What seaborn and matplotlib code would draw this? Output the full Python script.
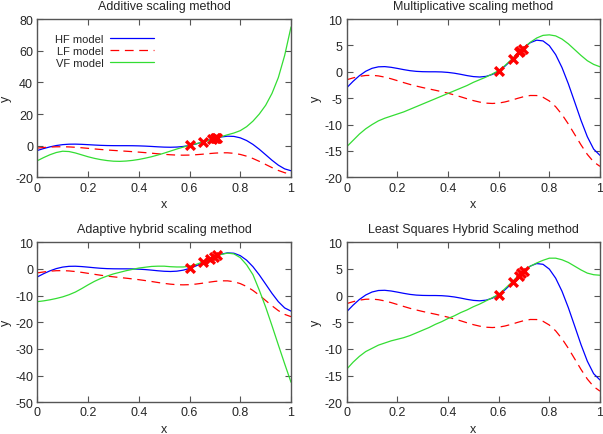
import matplotlib
matplotlib.use('Agg')
import matplotlib.pyplot as plt
from matplotlib.ticker import FormatStrFormatter
import seaborn as sns


# ── Data ─────────────────────────────────────────────────────
X_GRID = [0.0, 0.025, 0.05, 0.075, 0.1, 0.125, 0.15, 0.175, 0.2, 0.225,
          0.25, 0.275, 0.3, 0.325, 0.35, 0.375, 0.4, 0.425, 0.45, 0.475,
          0.5, 0.525, 0.55, 0.575, 0.6, 0.625, 0.65, 0.675, 0.7, 0.725,
          0.75, 0.775, 0.8, 0.825, 0.85, 0.875, 0.9, 0.925, 0.95, 0.975, 1.0]

HF_MODEL = [-3.03, -1.81, -0.74, 0.10, 0.66, 0.94, 0.98, 0.85, 0.64, 0.41,
            0.21, 0.08, 0.02, 0.00, 0.00, -0.03, -0.12, -0.27, -0.48, -0.72,
            -0.91, -0.99, -0.87, -0.50, 0.15, 1.07, 2.21, 3.44, 4.61, 5.52,
            5.99, 5.85, 4.95, 3.25, 0.80, -2.27, -5.71, -9.19, -12.30, -14.65, -15.83]

LF_MODEL = [-1.51, -1.16, -0.87, -0.70, -0.67, -0.78, -1.01, -1.32, -1.68, -2.05,
            -2.40, -2.71, -2.99, -3.25, -3.50, -3.77, -4.06, -4.39, -4.74, -5.11,
            -5.46, -5.74, -5.94, -6.00, -5.93, -5.71, -5.40, -5.03, -4.70, -4.49,
            -4.50, -4.83, -5.53, -6.62, -8.10, -9.89, -11.86, -13.84, -15.65, -17.07, -17.92]

VF_ADDITIVE = [-9.5, -7.5, -5.7, -4.3, -3.5, -3.7, -4.6, -5.8, -7.0, -8.0,
               -8.8, -9.4, -9.8, -9.9, -9.7, -9.3, -8.7, -7.9, -7.0, -5.9,
               -4.7, -3.4, -2.1, -0.9, 0.2, 1.2, 2.2, 3.3, 4.5, 5.7,
               6.9, 8.0, 9.5, 12.0, 15.5, 20.0, 25.5, 33.0, 43.0, 57.0, 75.0]

VF_MULTIPLICATIVE = [-14.2, -13.0, -11.8, -10.8, -10.0, -9.3, -8.8, -8.4, -8.0, -7.6,
                     -7.1, -6.6, -6.1, -5.6, -5.1, -4.6, -4.1, -3.6, -3.1, -2.6,
                     -2.0, -1.5, -1.0, -0.4, 0.2, 1.2, 2.3, 3.5, 4.6, 5.6,
                     6.4, 6.9, 7.0, 6.8, 6.2, 5.3, 4.2, 3.1, 2.1, 1.4, 0.95]

VF_ADAPTIVE = [-12.3, -12.0, -11.6, -11.1, -10.5, -9.7, -8.7, -7.4, -6.0, -4.7,
               -3.6, -2.7, -1.9, -1.3, -0.7, -0.2, 0.3, 0.6, 0.9, 1.0,
               1.0, 0.8, 0.7, 0.7, 1.0, 1.6, 2.5, 3.5, 4.5, 5.4,
               5.9, 5.6, 4.2, 1.5, -2.2, -8.0, -14.3, -21.3, -28.5, -35.6, -42.5]

VF_LEAST_SQUARES = [-13.8, -12.5, -11.4, -10.5, -9.9, -9.3, -8.9, -8.5, -8.2, -7.9,
                    -7.5, -7.0, -6.5, -6.0, -5.4, -4.9, -4.3, -3.8, -3.2, -2.7,
                    -2.1, -1.6, -1.0, -0.4, 0.2, 1.3, 2.4, 3.6, 4.7, 5.5,
                    6.1, 6.6, 7.0, 7.0, 6.7, 6.2, 5.5, 4.8, 4.2, 3.9, 3.8]

# high fidelity samples used by each method
SAMPLES_ADDITIVE_X = [0.6, 0.655, 0.69, 0.70, 0.705, 0.71]
SAMPLES_ADDITIVE_Y = [0.15, 2.46, 4.16, 4.61, 4.82, 5.01]
SAMPLES_MULT_X = [0.6, 0.655, 0.68, 0.685, 0.695]
SAMPLES_MULT_Y = [0.15, 2.46, 3.69, 3.92, 4.39]
SAMPLES_ADAPTIVE_X = [0.6, 0.655, 0.68, 0.695, 0.71]
SAMPLES_ADAPTIVE_Y = [0.15, 2.46, 3.69, 4.39, 5.01]
SAMPLES_LS_X = [0.6, 0.655, 0.68, 0.69, 0.70]
SAMPLES_LS_Y = [0.15, 2.46, 3.69, 4.16, 4.61]

TITLES = ['Additive scaling method', 'Multiplicative scaling method',
          'Adaptive hybrid scaling method', 'Least Squares Hybrid Scaling method']
Y_LIMITS = [(-20, 80), (-20, 10), (-50, 10), (-20, 10)]
Y_STEPS = [20, 5, 10, 5]

# ── Style ────────────────────────────────────────────────────
sns.set_style('ticks')
plt.rcParams['font.family'] = ['Liberation Sans', 'DejaVu Sans']
plt.rcParams['font.size'] = 9
plt.rcParams['axes.unicode_minus'] = False

HF_COLOR = '#0000ff'
LF_COLOR = '#ff0000'
VF_COLOR = '#33dd33'
FRAME_COLOR = '#555555'


def draw_panel(ax, vf, sx, sy, title, ylim, ystep, show_legend=False):
    sns.lineplot(x=X_GRID, y=HF_MODEL, ax=ax, color=HF_COLOR, lw=0.9,
                 label='HF model')
    sns.lineplot(x=X_GRID, y=LF_MODEL, ax=ax, color=LF_COLOR, lw=0.9,
                 linestyle=(0, (7, 4.5)), label='LF model')
    sns.lineplot(x=X_GRID, y=vf, ax=ax, color=VF_COLOR, lw=0.9,
                 label='VF model')
    sns.scatterplot(x=sx, y=sy, ax=ax, marker='x', s=40, color=LF_COLOR,
                    linewidth=2.4, zorder=5)

    ax.set_xlim(0, 1)
    ax.set_ylim(*ylim)
    ax.set_xticks([0, 0.2, 0.4, 0.6, 0.8, 1.0])
    ax.set_yticks(range(ylim[0], ylim[1] + 1, ystep))
    ax.xaxis.set_major_formatter(FormatStrFormatter('%g'))
    ax.tick_params(direction='in', top=True, right=True, length=4,
                   width=0.8, color=FRAME_COLOR, labelsize=9, pad=3)
    for spine in ax.spines.values():
        spine.set_visible(True)
        spine.set_color(FRAME_COLOR)
        spine.set_linewidth(1.0)

    ax.set_title(title, fontsize=9, pad=7)
    ax.set_xlabel('x', fontsize=9, labelpad=3)
    ax.set_ylabel('y', fontsize=9, labelpad=2)

    if show_legend:
        ax.legend(loc='upper left', bbox_to_anchor=(0.03, 0.97), frameon=False,
                  markerfirst=False, handlelength=4.0, fontsize=8,
                  labelspacing=0.2, handletextpad=0.6)
    else:
        ax.get_legend().remove()


def main():
    fig = plt.figure(figsize=(6.03, 4.35), dpi=100)
    positions = [
        [0.0619, 0.590, 0.4207, 0.364],
        [0.5750, 0.590, 0.4200, 0.364],
        [0.0619, 0.073, 0.4207, 0.368],
        [0.5750, 0.073, 0.4200, 0.368],
    ]
    vf_series = [VF_ADDITIVE, VF_MULTIPLICATIVE, VF_ADAPTIVE, VF_LEAST_SQUARES]
    samples = [(SAMPLES_ADDITIVE_X, SAMPLES_ADDITIVE_Y),
               (SAMPLES_MULT_X, SAMPLES_MULT_Y),
               (SAMPLES_ADAPTIVE_X, SAMPLES_ADAPTIVE_Y),
               (SAMPLES_LS_X, SAMPLES_LS_Y)]

    for i, pos in enumerate(positions):
        ax = fig.add_axes(pos)
        draw_panel(ax, vf_series[i], samples[i][0], samples[i][1],
                   TITLES[i], Y_LIMITS[i], Y_STEPS[i], show_legend=(i == 0))

    fig.savefig('out.png', dpi=100)
    plt.close(fig)


if __name__ == '__main__':
    main()
